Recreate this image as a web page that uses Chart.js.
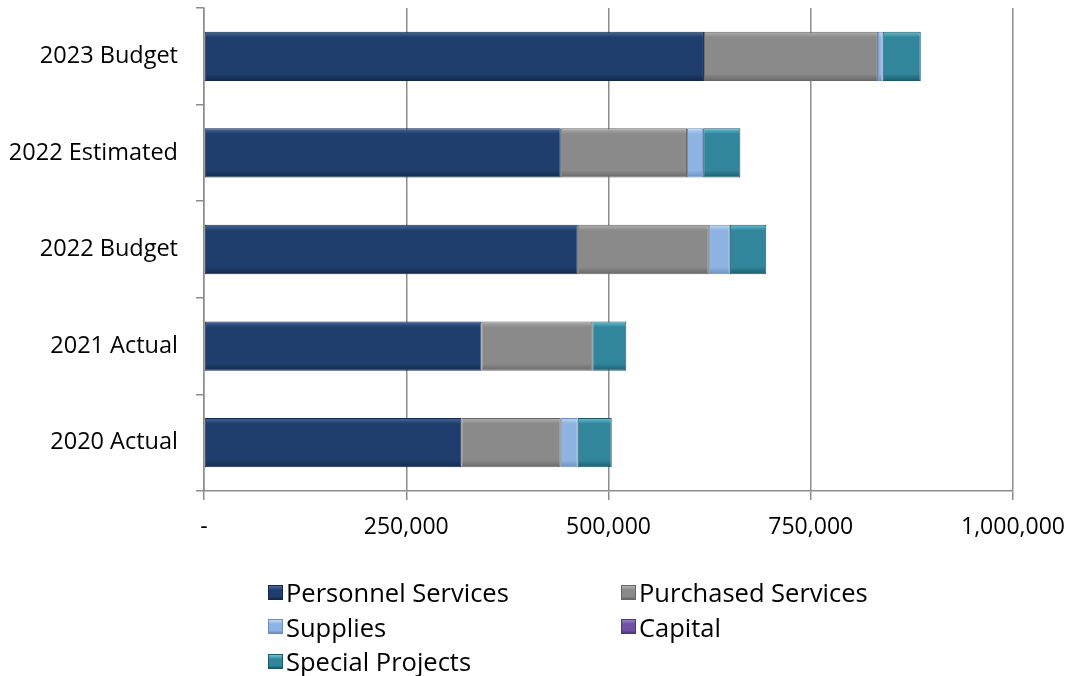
<!DOCTYPE html>
<html>
<head>
<meta charset="utf-8">
<script src="https://cdn.jsdelivr.net/npm/chart.js@4.4.1/dist/chart.umd.min.js"></script>
<style>
  html, body { margin: 0; padding: 0; background: #fff; }
  #wrap { position: relative; width: 1069px; height: 676px; }
  #legend {
    position: absolute; left: 268px; top: 575px;
    display: grid; grid-template-columns: 353px auto;
    font-family: 'Open Sans', sans-serif; font-size: 25.5px; color: #000;
  }
  .item { display: flex; align-items: center; height: 34.5px; }
  .box { width: 15px; height: 15px; margin-right: 3px; box-sizing: border-box; }
</style>
</head>
<body>
<div id="wrap">
  <canvas id="budgetChart" width="1069" height="676"></canvas>
  <div id="legend"></div>
</div>
<script>
// Categories top to bottom
const categories = ['2023 Budget', '2022 Estimated', '2022 Budget', '2021 Actual', '2020 Actual'];

// Series values
const personnel = [618000, 441000, 462000, 343000, 318000];
const purchased = [215000, 156000, 162000, 137000, 123000];
const supplies  = [6000, 20000, 26000, 0, 21000];
const capital   = [0, 0, 0, 0, 0];
const special   = [47000, 46000, 45000, 42000, 42000];

// X axis ticks
const xTickValues = [0, 250000, 500000, 750000, 1000000];
const xTickLabels = ['-', '250,000', '500,000', '750,000', '1,000,000'];

const seriesNames   = ['Personnel Services', 'Purchased Services', 'Supplies', 'Capital', 'Special Projects'];
const seriesColors  = ['#1f3e6d', '#8a8a8a', '#8eb4e3', '#7050a0', '#31869c'];
const seriesLight   = ['#4a6d9e', '#b4b4b4', '#c4daf4', '#9a80c8', '#6cc4d8'];
const seriesDark    = ['#12284a', '#666666', '#6b8fbd', '#4f3878', '#1d5a6a'];

// bevel-ish gradient per bar (vertical, across bar thickness)
function barFill(i) {
  return (c) => {
    const chart = c.chart;
    const y = chart.scales && chart.scales.y;
    if (!chart.chartArea || !y || c.dataIndex === undefined) return seriesColors[i];
    const mid = y.getPixelForValue(c.dataIndex);
    const half = 25;
    const g = chart.ctx.createLinearGradient(0, mid - half, 0, mid + half);
    g.addColorStop(0, seriesLight[i]);
    g.addColorStop(0.12, seriesColors[i]);
    g.addColorStop(0.85, seriesColors[i]);
    g.addColorStop(1, seriesDark[i]);
    return g;
  };
}

function initBudgetChart() {
  const ctx = document.getElementById('budgetChart');
  if (typeof Chart === 'undefined') {
    setTimeout(initBudgetChart, 300);
    return;
  }

  const values = [personnel, purchased, supplies, capital, special];
  const datasets = values.map((data, i) => ({
    label: seriesNames[i],
    data: data,
    backgroundColor: barFill(i),
    borderColor: seriesDark[i],
    borderWidth: 1,
    borderSkipped: false,
    categoryPercentage: 1,
    barPercentage: 0.51,
  }));

  const chart = new Chart(ctx, {
    type: 'bar',
    data: { labels: categories, datasets: datasets },
    options: {
      indexAxis: 'y',
      responsive: false,
      animation: false,
      layout: { padding: { top: 8, right: 56, bottom: 115, left: 0 } },
      plugins: {
        legend: { display: false },
        tooltip: { enabled: false },
      },
      scales: {
        x: {
          stacked: true,
          min: 0,
          max: 1000000,
          afterFit: (s) => { s.height = 70; s.paddingLeft = 0; s.paddingRight = 0; },
          afterBuildTicks: (s) => { s.ticks = xTickValues.map(v => ({ value: v })); },
          ticks: {
            color: '#000',
            font: { family: 'Open Sans', size: 23 },
            padding: 14,
            maxRotation: 0,
            callback: (v) => xTickLabels[xTickValues.indexOf(v)],
          },
          grid: { color: '#8c8c8c', lineWidth: 1.5, tickLength: 9 },
          border: { color: '#8c8c8c', width: 1.5 },
        },
        y: {
          stacked: true,
          afterFit: (s) => { s.width = 204; s.paddingTop = 0; s.paddingBottom = 0; },
          ticks: {
            color: '#000',
            font: { family: 'Open Sans', size: 23.5 },
            padding: 18,
          },
          grid: { offset: true, drawOnChartArea: false, color: '#8c8c8c', lineWidth: 1.5, tickLength: 8 },
          border: { color: '#8c8c8c', width: 1.5 },
        },
      },
    },
  });

  // legend in two columns, like the original
  const legend = document.getElementById('legend');
  chart.data.datasets.forEach((ds, i) => {
    const item = document.createElement('div');
    item.className = 'item';
    const box = document.createElement('span');
    box.className = 'box';
    box.style.background = 'linear-gradient(' + seriesLight[i] + ', ' + seriesColors[i] + ' 30%, ' + seriesColors[i] + ' 80%, ' + seriesDark[i] + ')';
    box.style.border = '1px solid ' + seriesDark[i];
    item.appendChild(box);
    item.appendChild(document.createTextNode(ds.label));
    legend.appendChild(item);
  });
}

initBudgetChart();
</script>
</body>
</html>
